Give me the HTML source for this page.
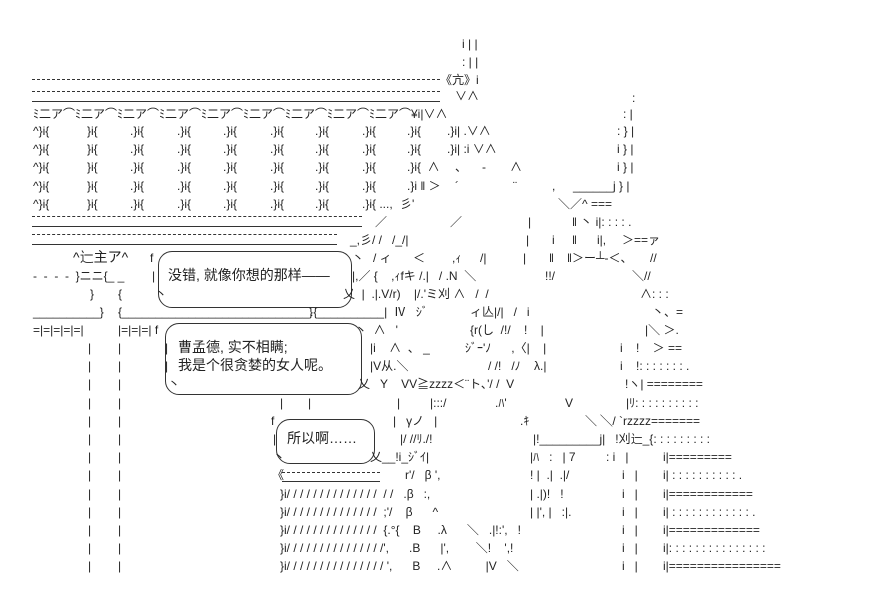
<!DOCTYPE html>
<html><head><meta charset="utf-8"><style>
body{margin:0;background:#fff;width:896px;height:604px;overflow:hidden;position:relative}
.t{position:absolute;white-space:pre;font:12px "Liberation Sans","Noto Sans CJK SC",sans-serif;line-height:18px;color:#222}
.j{font-size:14px}
.ln{position:absolute;height:0}
.b{position:absolute;border:1px solid #333;border-radius:14px}
</style></head><body>
<!-- top spire -->
<div class="t" style="left:462px;top:35px">i | |</div>
<div class="t" style="left:462px;top:53px">: | |</div>
<div class="ln" style="left:32px;top:79px;width:408px;border-top:1px dashed #333"></div>
<div class="t" style="left:440px;top:71px">《亢》i</div>
<div class="ln" style="left:32px;top:91px;width:408px;border-top:1px dashed #333"></div>
<div class="ln" style="left:32px;top:101px;width:408px;border-top:1px solid #333"></div>
<div class="t" style="left:455px;top:87px">∨∧</div>
<div class="t" style="left:632px;top:89px">:</div>
<!-- arches -->
<div class="t" style="left:33px;top:105px">ﾐ二ア⌒ﾐ二ア⌒ﾐ二ア⌒ﾐ二ア⌒ﾐ二ア⌒ﾐ二ア⌒ﾐ二ア⌒ﾐ二ア⌒ﾐ二ア⌒¥i|∨∧</div>
<div class="t" style="left:623px;top:105px">: |</div>
<!-- columns -->
<div class="t" style="left:33px;top:122px">^}i{</div><div class="t" style="left:87px;top:122px">}i{</div><div class="t" style="left:130px;top:122px">.}i{</div><div class="t" style="left:177px;top:122px">.}i{</div><div class="t" style="left:223px;top:122px">.}i{</div><div class="t" style="left:270px;top:122px">.}i{</div><div class="t" style="left:315px;top:122px">.}i{</div><div class="t" style="left:362px;top:122px">.}i{</div><div class="t" style="left:407px;top:122px">.}i{</div>
<div class="t" style="left:447px;top:122px">.}i| .∨∧</div><div class="t" style="left:617px;top:122px">: } |</div>
<div class="t" style="left:33px;top:140px">^}i{</div><div class="t" style="left:87px;top:140px">}i{</div><div class="t" style="left:130px;top:140px">.}i{</div><div class="t" style="left:177px;top:140px">.}i{</div><div class="t" style="left:223px;top:140px">.}i{</div><div class="t" style="left:270px;top:140px">.}i{</div><div class="t" style="left:315px;top:140px">.}i{</div><div class="t" style="left:362px;top:140px">.}i{</div><div class="t" style="left:407px;top:140px">.}i{</div>
<div class="t" style="left:447px;top:140px">.}i| :i ∨∧</div><div class="t" style="left:617px;top:140px">i } |</div>
<div class="t" style="left:33px;top:158px">^}i{</div><div class="t" style="left:87px;top:158px">}i{</div><div class="t" style="left:130px;top:158px">.}i{</div><div class="t" style="left:177px;top:158px">.}i{</div><div class="t" style="left:223px;top:158px">.}i{</div><div class="t" style="left:270px;top:158px">.}i{</div><div class="t" style="left:315px;top:158px">.}i{</div><div class="t" style="left:362px;top:158px">.}i{</div><div class="t" style="left:407px;top:158px">.}i{  ∧</div>
<div class="t" style="left:455px;top:158px">、</div><div class="t" style="left:482px;top:158px">-</div><div class="t" style="left:510px;top:158px">∧</div><div class="t" style="left:617px;top:158px">i } |</div>
<div class="t" style="left:33px;top:177px">^}i{</div><div class="t" style="left:87px;top:177px">}i{</div><div class="t" style="left:130px;top:177px">.}i{</div><div class="t" style="left:177px;top:177px">.}i{</div><div class="t" style="left:223px;top:177px">.}i{</div><div class="t" style="left:270px;top:177px">.}i{</div><div class="t" style="left:315px;top:177px">.}i{</div><div class="t" style="left:362px;top:177px">.}i{</div><div class="t" style="left:407px;top:177px">.}i ‖ ＞</div>
<div class="t" style="left:455px;top:177px">´</div><div class="t" style="left:513px;top:177px">¨</div><div class="t" style="left:552px;top:177px">,</div><div class="t" style="left:573px;top:177px">______j } |</div>
<div class="t" style="left:33px;top:195px">^}i{</div><div class="t" style="left:87px;top:195px">}i{</div><div class="t" style="left:130px;top:195px">.}i{</div><div class="t" style="left:177px;top:195px">.}i{</div><div class="t" style="left:223px;top:195px">.}i{</div><div class="t" style="left:270px;top:195px">.}i{</div><div class="t" style="left:315px;top:195px">.}i{</div><div class="t" style="left:362px;top:195px">.}i{ ...,</div>
<div class="t" style="left:400px;top:195px">彡'</div><div class="t" style="left:558px;top:195px">＼／^ ===</div>
<!-- row 10/11 -->
<div class="ln" style="left:32px;top:216px;width:330px;border-top:1px dashed #333"></div>
<div class="ln" style="left:32px;top:226px;width:330px;border-top:1px solid #333"></div>
<div class="t" style="left:375px;top:213px">／</div><div class="t" style="left:450px;top:213px">／</div><div class="t" style="left:528px;top:213px">|</div><div class="t" style="left:572px;top:213px">‖ 丶 i|: : : : .</div>
<div class="ln" style="left:32px;top:234px;width:305px;border-top:1px dashed #333"></div>
<div class="ln" style="left:32px;top:244px;width:305px;border-top:1px solid #333"></div>
<div class="t" style="left:350px;top:231px">_,彡/ /   /_/|</div><div class="t" style="left:526px;top:231px">|</div><div class="t" style="left:552px;top:231px">i</div><div class="t" style="left:572px;top:231px">‖</div><div class="t" style="left:597px;top:231px">i|,</div><div class="t" style="left:622px;top:231px">＞==ァ</div>
<!-- bubble 1 -->
<div class="b" style="left:158px;top:251px;width:192px;height:55px"></div>
<div class="t j" style="left:73px;top:248px">^辷主ア^</div><div class="t" style="left:150px;top:249px">f</div>
<div class="t" style="left:352px;top:249px">丶</div><div class="t" style="left:373px;top:249px">/ ィ</div><div class="t" style="left:413px;top:249px">＜</div><div class="t" style="left:452px;top:249px">,ｨ</div><div class="t" style="left:480px;top:249px">/|</div><div class="t" style="left:523px;top:249px">|</div><div class="t" style="left:549px;top:249px">‖</div><div class="t" style="left:567px;top:249px">‖＞ー┴-＜、</div><div class="t" style="left:650px;top:249px">//</div>
<div class="t" style="left:33px;top:267px">-  -  -  -  }ニニ{_ _</div><div class="t" style="left:152px;top:267px">|</div>
<div class="t j" style="left:168px;top:266px">没错, 就像你想的那样——</div>
<div class="t" style="left:352px;top:267px">|,／ {    ,ｨfキ /.|   / .N  ＼</div><div class="t" style="left:545px;top:267px">!!/</div><div class="t" style="left:632px;top:267px">＼//</div>
<div class="t" style="left:90px;top:285px">}</div><div class="t" style="left:118px;top:285px">{</div><div class="t" style="left:155px;top:285px">丶</div>
<div class="t" style="left:343px;top:285px">乂  |  .|.V/r)    |/.'ミ刈 ∧   /  /</div><div class="t" style="left:640px;top:285px">∧: : :</div>
<div class="t" style="left:33px;top:303px">__________}</div><div class="t" style="left:118px;top:303px">{____________________________}</div><div class="t" style="left:310px;top:303px">.{__________|  Ⅳ   ｼﾞ</div>
<div class="t" style="left:470px;top:303px">ィ亾|/|   /   i</div><div class="t" style="left:652px;top:303px">丶、=</div>
<!-- bubble 2 -->
<div class="b" style="left:165px;top:323px;width:195px;height:70px"></div>
<div class="t" style="left:33px;top:321px">=|=|=|=|=|</div><div class="t" style="left:118px;top:321px">|=|=|=| f</div>
<div class="t" style="left:355px;top:321px">丶  ∧   '</div><div class="t" style="left:470px;top:321px">{r(し  /!/    !    |</div><div class="t" style="left:645px;top:321px">|＼ ＞.</div>
<div class="t" style="left:88px;top:339px">|</div><div class="t" style="left:118px;top:339px">|</div><div class="t" style="left:165px;top:339px">|</div>
<div class="t j" style="left:178px;top:338px">曹孟德, 实不相瞒;</div>
<div class="t" style="left:370px;top:339px">|i    ∧  、 _</div><div class="t" style="left:465px;top:339px">ｼﾞｰ'ﾉ      ,〈|    |</div><div class="t" style="left:620px;top:339px">i    !    ＞ ==</div>
<div class="t" style="left:88px;top:357px">|</div><div class="t" style="left:118px;top:357px">|</div><div class="t" style="left:165px;top:357px">|</div>
<div class="t j" style="left:178px;top:356px">我是个很贪婪的女人呢。</div>
<div class="t" style="left:370px;top:357px">|V从.＼</div><div class="t" style="left:488px;top:357px">/ /!   /ﾉ    λ.|</div><div class="t" style="left:620px;top:357px">i    !: : : : : : : .</div>
<div class="t" style="left:88px;top:375px">|</div><div class="t" style="left:118px;top:375px">|</div><div class="t" style="left:168px;top:375px">丶</div>
<div class="t" style="left:358px;top:375px">乂   Y    VV≧zzzz＜¨ト､'/ /  V</div><div class="t" style="left:625px;top:375px">!ヽ| ========</div>
<div class="t" style="left:88px;top:394px">|</div><div class="t" style="left:118px;top:394px">|</div>
<div class="t" style="left:280px;top:394px">|</div><div class="t" style="left:308px;top:394px">|</div><div class="t" style="left:397px;top:394px">|</div><div class="t" style="left:430px;top:394px">|:::/</div><div class="t" style="left:495px;top:394px">.ﾊ'</div><div class="t" style="left:565px;top:394px">V</div><div class="t" style="left:626px;top:394px">|ﾘ: : : : : : : : : :</div>
<!-- bubble 3 -->
<div class="b" style="left:276px;top:419px;width:97px;height:43px"></div>
<div class="t" style="left:88px;top:412px">|</div><div class="t" style="left:118px;top:412px">|</div><div class="t" style="left:271px;top:412px">f</div>
<div class="t" style="left:393px;top:412px">|   γノ   |</div><div class="t" style="left:520px;top:412px">.ｷ</div><div class="t" style="left:585px;top:412px">＼ ╲/ `rzzzz=======</div>
<div class="t" style="left:88px;top:430px">|</div><div class="t" style="left:118px;top:430px">|</div><div class="t" style="left:273px;top:430px">|</div>
<div class="t j" style="left:287px;top:429px">所以啊……</div>
<div class="t" style="left:400px;top:430px">|/ //ﾘ./!</div><div class="t" style="left:533px;top:430px">|!_________j|   !刈辷_{: : : : : : : : :</div>
<div class="t" style="left:88px;top:448px">|</div><div class="t" style="left:118px;top:448px">|</div><div class="t" style="left:273px;top:448px">丶</div>
<div class="t" style="left:370px;top:448px">乂__!i_ｼﾞｲ|</div><div class="t" style="left:530px;top:448px">|ﾊ   :   | 7</div><div class="t" style="left:606px;top:448px">: i   |</div><div class="t" style="left:663px;top:448px">i|=========</div>
<div class="t" style="left:88px;top:466px">|</div><div class="t" style="left:118px;top:466px">|</div>
<div class="t" style="left:272px;top:466px">《</div>
<div class="ln" style="left:282px;top:472px;width:98px;border-top:1px dashed #333"></div>
<div class="ln" style="left:282px;top:481px;width:98px;border-top:1px solid #333"></div>
<div class="t" style="left:405px;top:466px">r'/   β ',</div><div class="t" style="left:530px;top:466px">! |  .|  .|/</div><div class="t" style="left:622px;top:466px">i   |</div><div class="t" style="left:663px;top:466px">i| : : : : : : : : : : .</div>
<div class="t" style="left:88px;top:485px">|</div><div class="t" style="left:118px;top:485px">|</div>
<div class="t" style="left:280px;top:485px">}i/ / / / / / / / / / / / / /  / /   .β   :,</div><div class="t" style="left:530px;top:485px">| .|)!   !</div><div class="t" style="left:622px;top:485px">i   |</div><div class="t" style="left:663px;top:485px">i|============</div>
<div class="t" style="left:88px;top:503px">|</div><div class="t" style="left:118px;top:503px">|</div>
<div class="t" style="left:280px;top:503px">}i/ / / / / / / / / / / / / /  ;'/    β      ^</div><div class="t" style="left:530px;top:503px">| |', |   :|.</div><div class="t" style="left:622px;top:503px">i   |</div><div class="t" style="left:663px;top:503px">i| : : : : : : : : : : : : .</div>
<div class="t" style="left:88px;top:521px">|</div><div class="t" style="left:118px;top:521px">|</div>
<div class="t" style="left:280px;top:521px">}i/ / / / / / / / / / / / / /  {.°{    B     .λ      ＼   .|!:',   !</div><div class="t" style="left:622px;top:521px">i   |</div><div class="t" style="left:663px;top:521px">i|=============</div>
<div class="t" style="left:88px;top:539px">|</div><div class="t" style="left:118px;top:539px">|</div>
<div class="t" style="left:280px;top:539px">}i/ / / / / / / / / / / / / / /',      .B      |',        ＼!    ',!</div><div class="t" style="left:622px;top:539px">i   |</div><div class="t" style="left:663px;top:539px">i|: : : : : : : : : : : : : : :</div>
<div class="t" style="left:88px;top:557px">|</div><div class="t" style="left:118px;top:557px">|</div>
<div class="t" style="left:280px;top:557px">}i/ / / / / / / / / / / / / / / ',      B     .∧          |V   ＼</div><div class="t" style="left:622px;top:557px">i   |</div><div class="t" style="left:663px;top:557px">i|================</div>
</body></html>
